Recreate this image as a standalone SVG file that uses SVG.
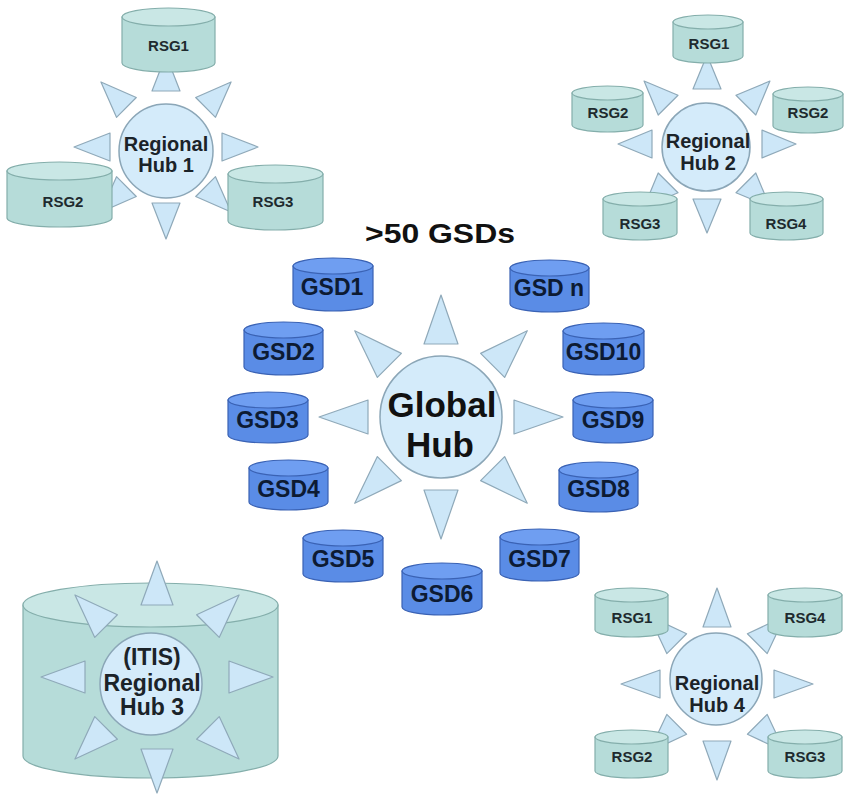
<svg xmlns="http://www.w3.org/2000/svg" width="852" height="794" viewBox="0 0 852 794">
<style>
text{font-family:"Liberation Sans",Arial,sans-serif;font-weight:bold;text-anchor:middle}
.ray{fill:#cde7f8;stroke:#8fa9b9;stroke-width:1.2;stroke-linejoin:round}
.hub{fill:#d4ebfa;stroke:#8ba6b7;stroke-width:1.5}
.rb{fill:#b6dcd9;stroke:#84aeab;stroke-width:1.2}
.rt{fill:#c9e7e5;stroke:#84aeab;stroke-width:1.2}
.gb{fill:#5a8ce6;stroke:#3a62b4;stroke-width:1.2}
.gt{fill:#6f9ef1;stroke:#3a62b4;stroke-width:1.2}
.rl{font-size:15px;fill:#1e2a2e}
.gl{font-size:23px;fill:#0d1b33}
.hl{font-size:20px;fill:#1b2329}
</style>
<rect width="852" height="794" fill="#ffffff"/>

<g id="hub3-store">
<path class="rb" d="M23,605 V756 A127.5,22 0 0 0 278,756 V605 Z"/>
<ellipse class="rt" cx="150.5" cy="605" rx="127.5" ry="22"/>
</g>

<g id="connectors">
<g id="rays-hub1" transform="translate(166,147)">
<polygon class="ray" points="56,-14 92,0 56,14"/>
<polygon class="ray" points="56,-14 92,0 56,14" transform="rotate(45)"/>
<polygon class="ray" points="56,-14 92,0 56,14" transform="rotate(90)"/>
<polygon class="ray" points="56,-14 92,0 56,14" transform="rotate(135)"/>
<polygon class="ray" points="56,-14 92,0 56,14" transform="rotate(180)"/>
<polygon class="ray" points="56,-14 92,0 56,14" transform="rotate(225)"/>
<polygon class="ray" points="56,-14 92,0 56,14" transform="rotate(270)"/>
<polygon class="ray" points="56,-14 92,0 56,14" transform="rotate(315)"/>
</g>
<g id="rays-hub2" transform="translate(707,144)">
<polygon class="ray" points="55,-14 89,0 55,14"/>
<polygon class="ray" points="55,-14 89,0 55,14" transform="rotate(45)"/>
<polygon class="ray" points="55,-14 89,0 55,14" transform="rotate(90)"/>
<polygon class="ray" points="55,-14 89,0 55,14" transform="rotate(135)"/>
<polygon class="ray" points="55,-14 89,0 55,14" transform="rotate(180)"/>
<polygon class="ray" points="55,-14 89,0 55,14" transform="rotate(225)"/>
<polygon class="ray" points="55,-14 89,0 55,14" transform="rotate(270)"/>
<polygon class="ray" points="55,-14 89,0 55,14" transform="rotate(315)"/>
</g>
<g id="rays-global" transform="translate(441,417)">
<polygon class="ray" points="73,-17 122,0 73,17"/>
<polygon class="ray" points="73,-17 122,0 73,17" transform="rotate(45)"/>
<polygon class="ray" points="73,-17 122,0 73,17" transform="rotate(90)"/>
<polygon class="ray" points="73,-17 122,0 73,17" transform="rotate(135)"/>
<polygon class="ray" points="73,-17 122,0 73,17" transform="rotate(180)"/>
<polygon class="ray" points="73,-17 122,0 73,17" transform="rotate(225)"/>
<polygon class="ray" points="73,-17 122,0 73,17" transform="rotate(270)"/>
<polygon class="ray" points="73,-17 122,0 73,17" transform="rotate(315)"/>
</g>
<g id="rays-hub3" transform="translate(157,677)">
<polygon class="ray" points="72,-16 116,0 72,16"/>
<polygon class="ray" points="72,-16 116,0 72,16" transform="rotate(45)"/>
<polygon class="ray" points="72,-16 116,0 72,16" transform="rotate(90)"/>
<polygon class="ray" points="72,-16 116,0 72,16" transform="rotate(135)"/>
<polygon class="ray" points="72,-16 116,0 72,16" transform="rotate(180)"/>
<polygon class="ray" points="72,-16 116,0 72,16" transform="rotate(225)"/>
<polygon class="ray" points="72,-16 116,0 72,16" transform="rotate(270)"/>
<polygon class="ray" points="72,-16 116,0 72,16" transform="rotate(315)"/>
</g>
<g id="rays-hub4" transform="translate(717,684)">
<polygon class="ray" points="57,-14 96,0 57,14"/>
<polygon class="ray" points="57,-14 96,0 57,14" transform="rotate(45)"/>
<polygon class="ray" points="57,-14 96,0 57,14" transform="rotate(90)"/>
<polygon class="ray" points="57,-14 96,0 57,14" transform="rotate(135)"/>
<polygon class="ray" points="57,-14 96,0 57,14" transform="rotate(180)"/>
<polygon class="ray" points="57,-14 96,0 57,14" transform="rotate(225)"/>
<polygon class="ray" points="57,-14 96,0 57,14" transform="rotate(270)"/>
<polygon class="ray" points="57,-14 96,0 57,14" transform="rotate(315)"/>
</g>
</g>

<!-- Regional Hub 1 -->
<g id="hub1">
<circle class="hub" cx="166" cy="151" r="47"/>
<text class="hl" x="166" y="151">Regional</text>
<text class="hl" x="166" y="172">Hub 1</text>
</g>
<g id="hub1-rsg1">
<path class="rb" d="M122,17 V63 A46.5,9 0 0 0 215,63 V17 Z"/>
<ellipse class="rt" cx="168.5" cy="17" rx="46.5" ry="9"/>
<text class="rl" x="168.5" y="51">RSG1</text>
</g>
<g id="hub1-rsg2">
<path class="rb" d="M7,171 V218 A52.5,9 0 0 0 112,218 V171 Z"/>
<ellipse class="rt" cx="59.5" cy="171" rx="52.5" ry="9"/>
<text class="rl" x="63" y="207">RSG2</text>
</g>
<g id="hub1-rsg3">
<path class="rb" d="M228,174 V221 A47.5,9 0 0 0 323,221 V174 Z"/>
<ellipse class="rt" cx="275.5" cy="174" rx="47.5" ry="9"/>
<text class="rl" x="273" y="207">RSG3</text>
</g>

<!-- Regional Hub 2 -->
<g id="hub2">
<circle class="hub" cx="706" cy="147" r="44"/>
<text class="hl" x="708" y="148">Regional</text>
<text class="hl" x="708" y="170">Hub 2</text>
</g>
<g id="hub2-rsg1">
<path class="rb" d="M673,22 V56 A35,7 0 0 0 743,56 V22 Z"/>
<ellipse class="rt" cx="708" cy="22" rx="35" ry="7"/>
<text class="rl" x="709" y="49">RSG1</text>
</g>
<g id="hub2-rsg2a">
<path class="rb" d="M572,93 V125 A35.5,7 0 0 0 643,125 V93 Z"/>
<ellipse class="rt" cx="607.5" cy="93" rx="35.5" ry="7"/>
<text class="rl" x="608" y="118">RSG2</text>
</g>
<g id="hub2-rsg2b">
<path class="rb" d="M773,94 V126 A35,7 0 0 0 843,126 V94 Z"/>
<ellipse class="rt" cx="808" cy="94" rx="35" ry="7"/>
<text class="rl" x="808" y="118">RSG2</text>
</g>
<g id="hub2-rsg3">
<path class="rb" d="M603,199 V233 A37,7 0 0 0 677,233 V199 Z"/>
<ellipse class="rt" cx="640" cy="199" rx="37" ry="7"/>
<text class="rl" x="640" y="229">RSG3</text>
</g>
<g id="hub2-rsg4">
<path class="rb" d="M750,199 V233 A36.5,7 0 0 0 823,233 V199 Z"/>
<ellipse class="rt" cx="786.5" cy="199" rx="36.5" ry="7"/>
<text class="rl" x="786" y="229">RSG4</text>
</g>

<!-- Global Hub -->
<g id="global-title">
<text x="440" y="243" font-size="28" fill="#111" textLength="150" lengthAdjust="spacingAndGlyphs">&gt;50 GSDs</text>
</g>
<g id="global-hub">
<circle class="hub" cx="441" cy="417" r="61"/>
<text x="442" y="417" font-size="35" fill="#111">Global</text>
<text x="440" y="457" font-size="35" fill="#111">Hub</text>
</g>
<g id="gsd1">
<path class="gb" d="M293,266 V303 A40,8 0 0 0 373,303 V266 Z"/>
<ellipse class="gt" cx="333" cy="266" rx="40" ry="8"/>
<text class="gl" x="332" y="295">GSD1</text>
</g>
<g id="gsdn">
<path class="gb" d="M510,268 V304 A39.5,8 0 0 0 589,304 V268 Z"/>
<ellipse class="gt" cx="549.5" cy="268" rx="39.5" ry="8"/>
<text class="gl" x="549" y="296">GSD n</text>
</g>
<g id="gsd2">
<path class="gb" d="M244,330 V367 A39.5,8 0 0 0 323,367 V330 Z"/>
<ellipse class="gt" cx="283.5" cy="330" rx="39.5" ry="8"/>
<text class="gl" x="283.5" y="360">GSD2</text>
</g>
<g id="gsd10">
<path class="gb" d="M563,331 V367 A40.5,8 0 0 0 644,367 V331 Z"/>
<ellipse class="gt" cx="603.5" cy="331" rx="40.5" ry="8"/>
<text class="gl" x="603.5" y="360">GSD10</text>
</g>
<g id="gsd3">
<path class="gb" d="M228,400 V435 A40,8 0 0 0 308,435 V400 Z"/>
<ellipse class="gt" cx="268" cy="400" rx="40" ry="8"/>
<text class="gl" x="267.5" y="428">GSD3</text>
</g>
<g id="gsd9">
<path class="gb" d="M573,400 V435 A40,8 0 0 0 653,435 V400 Z"/>
<ellipse class="gt" cx="613" cy="400" rx="40" ry="8"/>
<text class="gl" x="613" y="428">GSD9</text>
</g>
<g id="gsd4">
<path class="gb" d="M249,468 V502 A39.5,8 0 0 0 328,502 V468 Z"/>
<ellipse class="gt" cx="288.5" cy="468" rx="39.5" ry="8"/>
<text class="gl" x="288.5" y="497">GSD4</text>
</g>
<g id="gsd8">
<path class="gb" d="M559,470 V504 A39.5,8 0 0 0 638,504 V470 Z"/>
<ellipse class="gt" cx="598.5" cy="470" rx="39.5" ry="8"/>
<text class="gl" x="598.5" y="497">GSD8</text>
</g>
<g id="gsd5">
<path class="gb" d="M303,538 V574 A40,8 0 0 0 383,574 V538 Z"/>
<ellipse class="gt" cx="343" cy="538" rx="40" ry="8"/>
<text class="gl" x="343" y="567">GSD5</text>
</g>
<g id="gsd7">
<path class="gb" d="M500,537 V573 A39.5,8 0 0 0 579,573 V537 Z"/>
<ellipse class="gt" cx="539.5" cy="537" rx="39.5" ry="8"/>
<text class="gl" x="539.5" y="567">GSD7</text>
</g>
<g id="gsd6">
<path class="gb" d="M402,571 V607 A40,8 0 0 0 482,607 V571 Z"/>
<ellipse class="gt" cx="442" cy="571" rx="40" ry="8"/>
<text class="gl" x="442" y="602">GSD6</text>
</g>

<!-- Regional Hub 3 -->
<g id="hub3">
<circle class="hub" cx="151" cy="684" r="51"/>
<text x="152" y="665" font-size="23" fill="#1b2329">(ITIS)</text>
<text x="152" y="691" font-size="23" fill="#1b2329">Regional</text>
<text x="152" y="715" font-size="23" fill="#1b2329">Hub 3</text>
</g>

<!-- Regional Hub 4 -->
<g id="hub4">
<circle class="hub" cx="716" cy="679" r="46"/>
<text class="hl" x="717" y="690">Regional</text>
<text class="hl" x="717" y="712">Hub 4</text>
</g>
<g id="hub4-rsg1">
<path class="rb" d="M595,595 V630 A36.5,7 0 0 0 668,630 V595 Z"/>
<ellipse class="rt" cx="631.5" cy="595" rx="36.5" ry="7"/>
<text class="rl" x="632" y="623">RSG1</text>
</g>
<g id="hub4-rsg4">
<path class="rb" d="M768,595 V630 A37,7 0 0 0 842,630 V595 Z"/>
<ellipse class="rt" cx="805" cy="595" rx="37" ry="7"/>
<text class="rl" x="805" y="623">RSG4</text>
</g>
<g id="hub4-rsg2">
<path class="rb" d="M595,737 V771 A36.5,7 0 0 0 668,771 V737 Z"/>
<ellipse class="rt" cx="631.5" cy="737" rx="36.5" ry="7"/>
<text class="rl" x="632" y="762">RSG2</text>
</g>
<g id="hub4-rsg3">
<path class="rb" d="M768,737 V771 A37,7 0 0 0 842,771 V737 Z"/>
<ellipse class="rt" cx="805" cy="737" rx="37" ry="7"/>
<text class="rl" x="805" y="762">RSG3</text>
</g>
</svg>
